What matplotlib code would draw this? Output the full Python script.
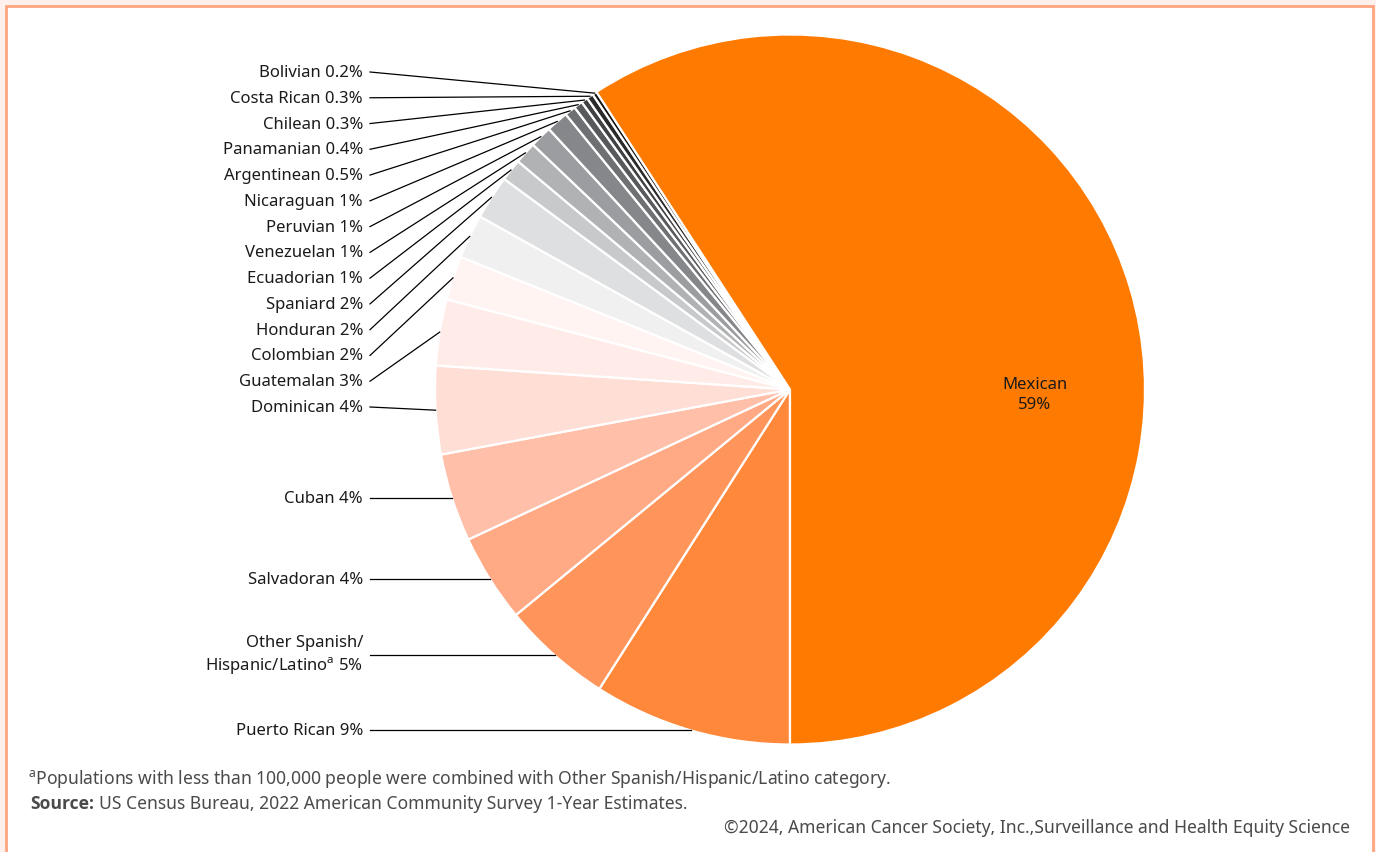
import numpy as np
import matplotlib.pyplot as plt
from matplotlib.patches import Rectangle

plt.rcParams['font.family'] = ['Noto Sans', 'DejaVu Sans']

# Hispanic/Latino population by origin, share of total (%), clockwise from the bottom
groups = ["Puerto Rican", "Other Spanish/\nHispanic/Latino$^\\mathregular{a}$", "Salvadoran", "Cuban",
          "Dominican", "Guatemalan", "Colombian", "Honduran", "Spaniard", "Ecuadorian",
          "Venezuelan", "Peruvian", "Nicaraguan", "Argentinean", "Panamanian", "Chilean",
          "Costa Rican", "Bolivian", "Mexican"]
shares = [9, 5, 4, 4, 4, 3, 2, 2, 2, 1, 1, 1, 1, 0.5, 0.4, 0.3, 0.3, 0.2, 59]
share_text = ["9%", "5%", "4%", "4%", "4%", "3%", "2%", "2%", "2%", "1%", "1%", "1%", "1%",
              "0.5%", "0.4%", "0.3%", "0.3%", "0.2%", "59%"]

wedge_colors = ["#FF883A", "#FF955A", "#FFA985", "#FFBFA8", "#FFDED6", "#FFECE8", "#FFF4F1",
                "#F0F0F0", "#DEDFE0", "#C8C9CB", "#B1B2B4", "#9C9DA0", "#86878A", "#6F7073",
                "#58595C", "#404143", "#2B2B2C", "#141414", "#FF7A00"]

W, H = 1376, 853
CX, CY, R = 790, H - 390.5, 355
TEXT_X = 363
TEXT = "#1A1A1A"
NOTE = "#4A4A4A"
LABEL_SIZE = 12
NOTE_SIZE = 12.6

fig = plt.figure(figsize=(W / 100, H / 100), dpi=100, facecolor="#FEF0EC")
ax = fig.add_axes([0, 0, 1, 1])

# white panel with the salmon border
ax.add_patch(Rectangle((6, -20), W - 6 - 3, H - 7 + 20, facecolor="white",
                       edgecolor="#FFA47F", linewidth=2.0, zorder=0))

wedges, _ = ax.pie(shares, colors=wedge_colors, startangle=-90, counterclock=False,
                   center=(CX, CY), radius=R, frame=True,
                   wedgeprops=dict(edgecolor="white", linewidth=1.6))
ax.set_xlim(0, W)
ax.set_ylim(0, H)
ax.set_aspect("equal")
ax.axis("off")

# small groups get evenly stacked labels, the big ones sit level with their wedge
n_stacked = 14
stack_y = np.linspace(H - 73, H - 408, n_stacked)

for i, (w, name, txt) in enumerate(zip(wedges[:-1], groups[:-1], share_text[:-1])):
    mid = np.deg2rad((w.theta1 + w.theta2) / 2)
    ex, ey = CX + R * np.cos(mid), CY + R * np.sin(mid)
    k = len(groups) - 2 - i
    if k < n_stacked:
        ly = stack_y[k]
    else:
        ly = ey
    ax.plot([TEXT_X + 7, ex], [ly, ey], color="black", lw=0.9, zorder=3)
    ax.text(TEXT_X, ly, name + " " + txt, ha="right", va="center", fontsize=LABEL_SIZE,
            color=TEXT, linespacing=1.3)

ax.text(1035, H - 395, groups[-1] + "\n" + share_text[-1], ha="center", va="center",
        fontsize=LABEL_SIZE, color=TEXT, linespacing=1.3)

# footnotes
ax.text(28, H - 779, "$^\\mathregular{a}$Populations with less than 100,000 people were combined "
        "with Other Spanish/Hispanic/Latino category.", ha="left", va="center",
        fontsize=NOTE_SIZE, color=NOTE)
src = ax.text(30, H - 804, "Source:", ha="left", va="center", fontsize=NOTE_SIZE,
              color=NOTE, fontweight="bold", family=["Open Sans", "DejaVu Sans"])
fig.canvas.draw()
bb = src.get_window_extent(renderer=fig.canvas.get_renderer())
ax.text(bb.x1 + 5, H - 804, "US Census Bureau, 2022 American Community Survey 1-Year Estimates.",
        ha="left", va="center", fontsize=NOTE_SIZE, color=NOTE)
ax.text(1350, H - 828, "\u00a92024, American Cancer Society, Inc.,Surveillance and Health Equity Science",
        ha="right", va="center", fontsize=NOTE_SIZE, color=NOTE)

fig.savefig("out.png", dpi=100, facecolor=fig.get_facecolor())
